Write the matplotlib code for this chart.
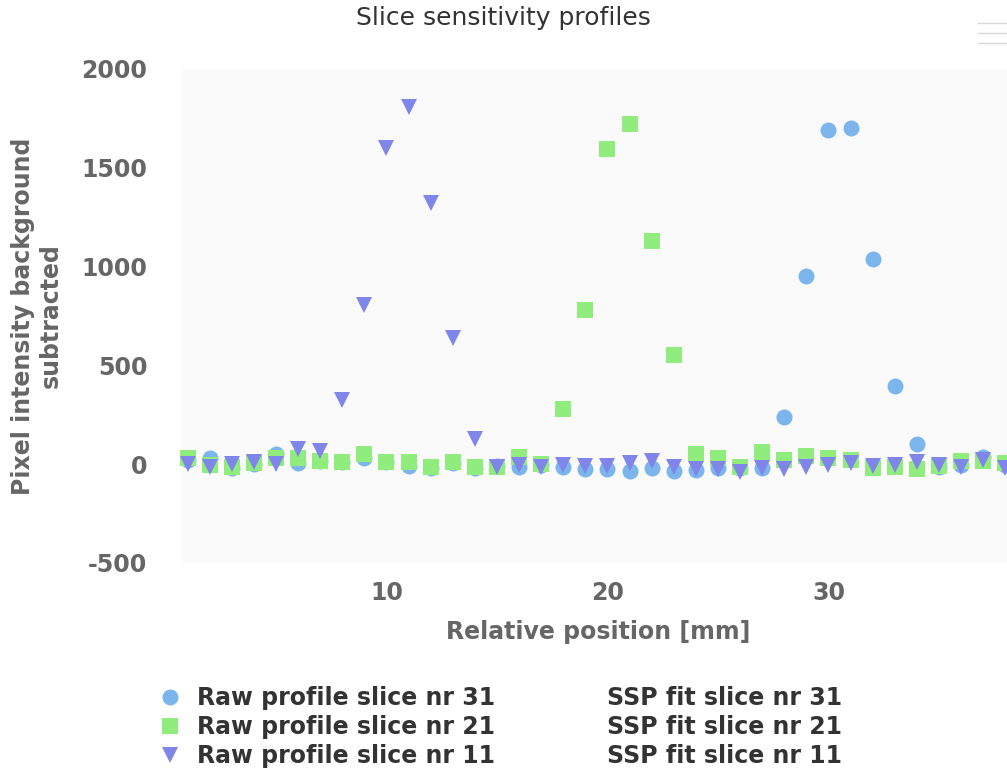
import numpy as np
import matplotlib.pyplot as plt
from matplotlib.lines import Line2D

plt.rcParams['axes.unicode_minus'] = False

# relative position [mm] of every sample
position = np.arange(1, 39)

# raw profiles, background subtracted
slice31 = [20, 30, -19, 0, 50, 5, 15, 10, 32, 10, -10, -20, 5, -20, -10, -15, -5, -15, -25,
           -25, -35, -20, -35, -30, -20, -20, -20, 238, 953, 1690, 1703, 1036, 395, 101,
           -15, -3, 37, -5]
slice21 = [29, -2, -13, 4, 30, 30, 15, 10, 50, 10, 10, -15, 10, -15, -15, 35, 0, 279, 781,
           1597, 1724, 1131, 553, 50, 30, -15, 61, 20, 40, 30, 20, -20, -15, -22, -9, 17,
           17, 7]
slice11 = [-1, -12, -1, 10, 0, 76, 66, 324, 806, 1602, 1810, 1323, 639, 130, -15, -5, -15,
           -5, -10, -10, 5, 15, -15, -25, -25, -40, -20, -25, -15, -5, 5, -10, -5, 10, -5,
           -13, 19, -19]

xticks = [10, 20, 30]
yticks = [-500, 0, 500, 1000, 1500, 2000]

W, H = 1007, 770
fig = plt.figure(figsize=(W / 100, H / 100), dpi=100)
ax = fig.add_axes([182 / W, 1 - 563 / H, 825 / W, 494 / H])
ax.set_facecolor('#fafafa')

ax.plot(position, slice31, 'o', ms=11.5, color='#7cb5ec', mew=0, clip_on=False,
        zorder=3, label='Raw profile slice nr 31')
ax.plot(position, slice21, 's', ms=12, color='#90ed7d', mew=0, clip_on=False,
        zorder=4, label='Raw profile slice nr 21')
ax.plot(position, slice11, 'v', ms=11.5, color='#8085e9', mew=0, clip_on=False,
        zorder=5, label='Raw profile slice nr 11')

ax.set_xlim(0.75, 38.08)
ax.set_ylim(-500, 2000)
ax.set_xticks(xticks)
ax.set_yticks(yticks)
for s in ax.spines.values():
    s.set_visible(False)
ax.tick_params(axis='x', length=0, pad=13, labelsize=17, labelcolor='#666666')
ax.tick_params(axis='y', length=0, pad=25, labelsize=17, labelcolor='#666666')
for lab in ax.get_xticklabels() + ax.get_yticklabels():
    lab.set_fontweight('bold')

ax.set_xlabel('Relative position [mm]', fontsize=17, fontweight='bold', color='#666666')
ax.xaxis.set_label_coords((598 - 182) / 825, -(632 - 563) / 494)
ax.xaxis.label.set_va('center')
ax.set_ylabel('Pixel intensity background\nsubtracted', fontsize=17, fontweight='bold',
              color='#666666')
ax.yaxis.set_label_coords((37 - 182) / 825, 0.5)
ax.yaxis.label.set_va('center')

fig.suptitle('Slice sensitivity profiles', x=0.5, y=1 - 18 / H, va='center',
             fontsize=18, color='#333333')

# legend: raw profiles in the first column, fits (no marker) in the second
h, l = ax.get_legend_handles_labels()
fits = [Line2D([], [], linestyle='none') for _ in range(3)]
fit_labels = ['SSP fit slice nr 31', 'SSP fit slice nr 21', 'SSP fit slice nr 11']
fig.legend(h + fits, l + fit_labels, ncol=2, loc='upper left',
           bbox_to_anchor=(158 / W, 1 - 686 / H), frameon=False,
           prop=dict(weight='bold', size=17), labelcolor='#333333',
           handlelength=1.0, handletextpad=0.64, columnspacing=3.1,
           labelspacing=0.22, borderpad=0, borderaxespad=0)

# menu icon in the top right corner
for yy in (23, 33, 43):
    fig.add_artist(Line2D([978 / W, 1.0], [1 - yy / H] * 2, color='#d9d9d9', lw=1))

fig.savefig('out.png', dpi=100)
